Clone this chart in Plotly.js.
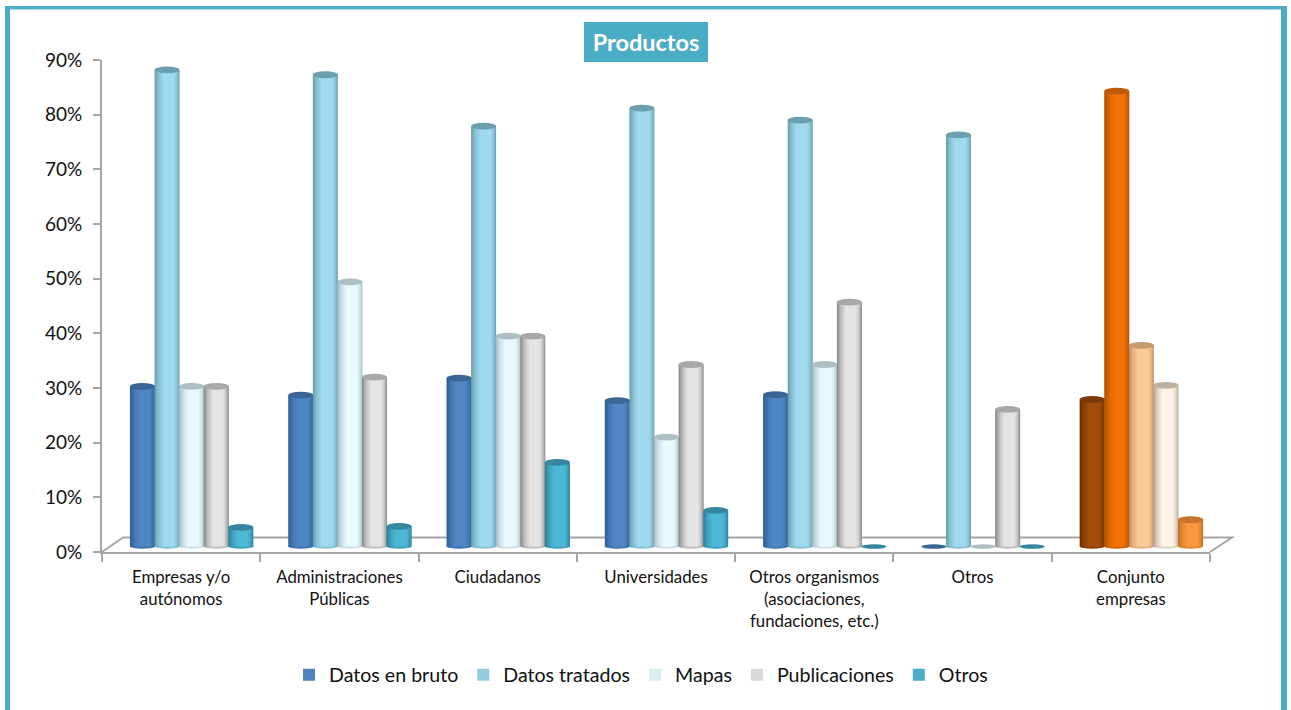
<!DOCTYPE html>
<html><head><meta charset="utf-8">
<script src="https://cdn.plot.ly/plotly-3.0.1.min.js"></script>
<style>html,body{margin:0;padding:0;background:#fff;overflow:hidden}#c{width:1291px;height:710px}</style>
</head><body><div id="c"></div>
<script>
const categories = ["Empresas y/o<br>autónomos","Administraciones<br>Públicas","Ciudadanos","Universidades","Otros organismos<br>(asociaciones,<br>fundaciones, etc.)","Otros","Conjunto<br>empresas"];
const seriesNames = ["Datos en bruto","Datos tratados","Mapas","Publicaciones","Otros"];
const datosEnBruto  = [29.3,27.7,30.8,26.7,27.8,0,26.9];
const datosTratados = [87.2,86.3,76.9,80.2,78.0,75.3,83.3];
const mapas         = [29.3,48.4,38.5,20.0,33.3,0,36.8];
const publicaciones = [29.3,31.0,38.5,33.3,44.7,25.1,29.5];
const otros         = [3.5,3.7,15.4,6.6,0,0,4.9];
const seriesValues = [datosEnBruto,datosTratados,mapas,publicaciones,otros];

// Styles: [edge, centre, top ellipse, legend swatch]
const blueStyle  = ["#2f5f96","#4f86c4","#3a6595","#4f81bd"];
const tealStyle  = ["#6a9fb0","#9fdaee","#6b9fad","#93cddd"];
const mapStyle   = ["#a9bcc4","#e8f9ff","#adbfc4","#dbeef4"];
const pubStyle   = ["#8a8a8a","#e4e4e4","#a8a8a8","#d9d9d9"];
const otherStyle = ["#2a8199","#4db8d6","#34879d","#4bacc6"];
const styles = [blueStyle,tealStyle,mapStyle,pubStyle,otherStyle];
const orangeStyles = [
  ["#6b3000","#a34b08","#7a3a08"],
  ["#b04e00","#f27208","#c05a08"],
  ["#bd9066","#fdc997","#c69a70"],
  ["#b5a696","#fff4e8","#bfb0a0"],
  ["#c66e1e","#f9983f","#c8742a"]
];

const L=102,R=1210,T=60,B=552,W=1291,H=710;
const px=v=>(v-L)/(R-L), py=v=>(B-v)/(B-T);
const unit=158.3, pitch=24.6/unit, bw=25/unit, shift=10.5/unit, base=1.0;
const layers=[[0,1,0],[.04,.98,.18],[.08,.96,.36],[.13,.93,.54],[.19,.89,.7],[.26,.85,.85],[.34,.79,1]];
const hex=c=>[1,3,5].map(i=>parseInt(c.substr(i,2),16));
const mix=(a,b,t)=>{const A=hex(a),B2=hex(b);return "rgb("+A.map((v,i)=>Math.round(v+(B2[i]-v)*t)).join(",")+")";};

const traces=[];
seriesValues.forEach((vals,s)=>{
  const left=(s-2)*pitch+shift-bw/2;
  layers.forEach(([a,b,t])=>{
    traces.push({type:"bar",x:categories,y:vals,base:base,
      width:bw*(b-a),offset:left+bw*a,showlegend:false,hoverinfo:"skip",
      name:seriesNames[s],
      marker:{line:{width:0},color:categories.map((_,c)=>c===6?mix(orangeStyles[s][0],orangeStyles[s][1],t):mix(styles[s][0],styles[s][1],t))}});
  });
});
seriesNames.forEach((n,s)=>traces.push({type:"bar",x:categories,y:categories.map(()=>null),name:n,marker:{color:styles[s][3],line:{width:0}},showlegend:true}));

const shapes=[];
const paperRect=(x0,y0,x1,y1,c,layer)=>({type:"rect",xref:"paper",yref:"paper",x0:px(x0),x1:px(x1),y0:py(y0),y1:py(y1),fillcolor:c,line:{width:0},layer:layer||"below"});
shapes.push(paperRect(5,6,10,710,"#4bacc6"),paperRect(1281,6,1287,710,"#4bacc6"),paperRect(5,6,1287,9.5,"#4bacc6"));
shapes.push(paperRect(10,9.5,1281,10.5,"#d5eef5"));
shapes.push(paperRect(584,22,708,62,"#4bacc6","above"));
const floor={type:"path",xref:"paper",yref:"paper",layer:"below",line:{color:"#a6a6a6",width:2},
  path:`M${px(L)},${py(B)} L${px(L+21)},${py(537.5)} L${px(1232)},${py(537.5)} L${px(R)},${py(B)}`};
shapes.push(floor);
seriesValues.forEach((vals,s)=>{
  const off=(s-2)*pitch+shift;
  vals.forEach((v,c)=>{
    const st=c===6?orangeStyles[s]:styles[s];
    const cx=c+off, rx=bw/2;
    if(v>0){
      shapes.push({type:"circle",xref:"x",yref:"y",layer:"below",x0:cx-rx,x1:cx+rx,y0:base-.4,y1:base+.4,fillcolor:mix(st[0],st[1],.6),line:{width:0}});
      shapes.push({type:"circle",xref:"x",yref:"y",layer:"above",x0:cx-rx,x1:cx+rx,y0:base+v-.62,y1:base+v+.62,fillcolor:st[2],line:{width:0}});
    } else {
      shapes.push({type:"circle",xref:"x",yref:"y",layer:"above",x0:cx-rx,x1:cx+rx,y0:base-.42,y1:base+.42,fillcolor:st[2],line:{width:0}});
    }
  });
});

const FONT="Lato, Carlito, 'Open Sans', sans-serif";
const layout={
  width:W,height:H,margin:{l:L,r:W-R,t:T,b:H-B,pad:0},autosize:false,
  paper_bgcolor:"#fff",plot_bgcolor:"rgba(0,0,0,0)",barmode:"overlay",
  font:{family:FONT,color:"#111"},
  title:{text:"<b>Productos</b>",font:{family:FONT,size:23.5,color:"#fff"},x:646/W,xanchor:"center",y:1-43/H,yanchor:"middle"},
  xaxis:{type:"category",categoryorder:"array",categoryarray:categories,range:[-.5,6.5],tickson:"boundaries",ticks:"outside",ticklen:8,tickwidth:1.5,tickcolor:"#a6a6a6",ticklabelstandoff:9,
    showline:true,linecolor:"#a6a6a6",linewidth:2,showgrid:false,zeroline:false,tickfont:{family:FONT,size:16.8,color:"#111"},tickangle:0,automargin:false},
  yaxis:{range:[0,90],tick0:0,dtick:10,ticksuffix:"%",ticks:"outside",ticklen:7,tickwidth:1.5,tickcolor:"#a6a6a6",ticklabelstandoff:7,showline:true,linecolor:"#a6a6a6",linewidth:2,
    showgrid:false,zeroline:false,tickfont:{family:FONT,size:19,color:"#111"},automargin:false},
  legend:{orientation:"h",x:px(641),xanchor:"center",xref:"paper",y:py(675),yanchor:"middle",yref:"paper",font:{family:FONT,size:19.6,color:"#111"},bgcolor:"rgba(0,0,0,0)",itemwidth:30,traceorder:"normal"},
  shapes:shapes
};
Plotly.newPlot("c",traces,layout,{displayModeBar:false,responsive:false});
</script></body></html>
